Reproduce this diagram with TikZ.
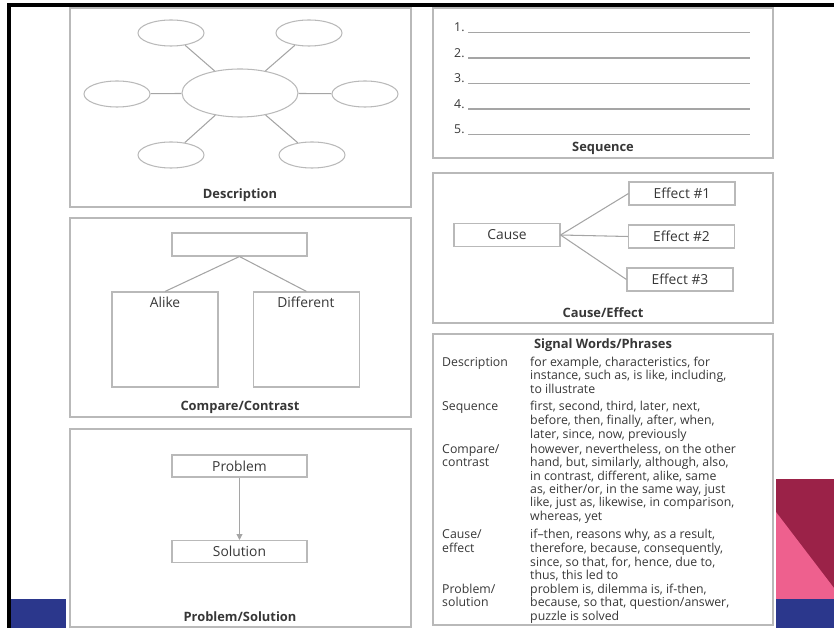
\documentclass[tikz,border=0pt]{standalone}
\usepackage{fontspec}
\setmainfont{Open Sans}
\usetikzlibrary{positioning,shapes.geometric,arrows.meta}

\definecolor{framegray}{RGB}{185,185,185}
\definecolor{linegray}{RGB}{165,165,165}
\definecolor{inkgray}{RGB}{55,55,55}
\definecolor{barblue}{RGB}{43,55,140}
\definecolor{barwine}{RGB}{155,34,72}
\definecolor{barpink}{RGB}{238,96,142}

\newdimen\pxu
\pxu=0.03cm

\begin{document}
\begin{tikzpicture}[x=0.03cm, y=-0.03cm,
    every node/.style={text=inkgray, font=\fontsize{10.5}{11.44}\selectfont},
    panel/.style={draw=framegray, line width=0.9pt},
    bubble/.style={ellipse, draw=framegray, line width=0.9pt, minimum width=66\pxu, minimum height=26\pxu, inner sep=0pt},
    boxtext/.style={font=\fontsize{11.8}{14}\selectfont},
    tag/.style={draw=framegray, line width=0.9pt, minimum width=106\pxu, minimum height=23\pxu, inner sep=0pt, boxtext},
    link/.style={draw=linegray, line width=0.9pt},
    heading/.style={font=\bfseries\fontsize{11}{13}\selectfont},
    words/.style={anchor=north west, align=left, inner sep=0pt}]
    \useasboundingbox (0,0) rectangle (834,628);

    % slide decoration
    \fill[barblue] (10,599) rectangle (66,628);
    \fill[barwine] (776,479) rectangle (834,599);
    \fill[barpink] (776,512) -- (834,588) -- (834,599) -- (776,599) -- cycle;
    \fill[barblue] (776,599) rectangle (834,628);
    \draw[line width=3pt, line join=miter] (8.8,628) -- (8.8,5) -- (834,5);

    % panels
    \draw[panel] (70,8) rectangle (411,207);
    \draw[panel] (433,8) rectangle (773,158);
    \draw[panel] (433,173) rectangle (773,323);
    \draw[panel] (70,218) rectangle (411,417);
    \draw[panel] (70,429) rectangle (411,627);
    \draw[panel] (433,334) rectangle (773,625);

    % Description
    \node[bubble, minimum width=116\pxu, minimum height=48\pxu] (hub) at (240,93) {};
    \node[bubble] (spokeNW) at (171,33) {};
    \node[bubble] (spokeNE) at (309,33) {};
    \node[bubble] (spokeW) at (117,94) {};
    \node[bubble] (spokeE) at (365,94) {};
    \node[bubble] (spokeSW) at (171,155) {};
    \node[bubble] (spokeSE) at (312,155) {};
    \foreach \s in {NW,NE,W,E,SW,SE}
        \draw[link] (hub) -- (spoke\s);
    \node[heading] (descTitle) at (240,195) {Description};

    % Sequence
    \foreach \i in {1,...,5} {
        \node[anchor=base west, inner sep=0pt] (num\i) at (454,{6.5+25.5*\i}) {\i.};
        \draw[link] (468,{7+25.5*\i}) -- (750,{7+25.5*\i});
    }
    \node[heading] (seqTitle) at (603,148) {Sequence};

    % Cause/Effect
    \node[tag] (cause) at (507,235) {Cause};
    \node[tag] (eff1) at (682,193.5) {Effect \#1};
    \node[tag] (eff2) at (681.5,236.5) {Effect \#2};
    \node[tag] (eff3) at (680,279.5) {Effect \#3};
    \foreach \e in {1,2,3}
        \draw[link] (cause.east) -- (eff\e.west);
    \node[heading] (ceTitle) at (603,313) {Cause/Effect};

    % Compare/Contrast
    \node[tag, minimum width=135\pxu] (topic) at (239.5,244.5) {};
    \node[tag, minimum height=95\pxu] (alike) at (165,339.5) {};
    \node[tag, minimum height=95\pxu] (differ) at (306.5,339.5) {};
    \node[boxtext] (alikeTxt) at (165,302) {Alike};
    \node[boxtext] (differTxt) at (306,302) {Different};
    \draw[link] (topic.south) -- (alike.north);
    \draw[link] (topic.south) -- (differ.north);
    \node[heading] (ccTitle) at (240,407) {Compare/Contrast};

    % Problem/Solution
    \node[tag, minimum width=135\pxu, minimum height=22\pxu] (problem) at (239.5,466) {Problem};
    \node[tag, minimum width=135\pxu, minimum height=22\pxu] (solution) at (239.5,551.5) {Solution};
    \draw[link, -{Triangle[length=5pt, width=5pt]}] (problem) -- (solution);
    \node[heading] (psTitle) at (240,617) {Problem/Solution};

    % Signal words
    \node[heading] (swTitle) at (603,345) {Signal Words/Phrases};
    \node[words] (kDesc) at (442,356.6) {\strut Description};
    \node[words] (vDesc) at (530,356.6) {\strut for example, characteristics, for\\instance, such as, is like, including,\\to illustrate};
    \node[words] (kSeq) at (442,400.6) {\strut Sequence};
    \node[words] (vSeq) at (530,400.6) {\strut first, second, third, later, next,\\before, then, finally, after, when,\\later, since, now, previously};
    \node[words] (kComp) at (442,443.6) {\strut Compare/\\contrast};
    \node[words] (vComp) at (530,443.6) {\strut however, nevertheless, on the other\\hand, but, similarly, although, also,\\in contrast, different, alike, same\\as, either/or, in the same way, just\\like, just as, likewise, in comparison,\\whereas, yet};
    \node[words] (kCause) at (442,528.6) {\strut Cause/\\effect};
    \node[words] (vCause) at (530,528.6) {\strut if--then, reasons why, as a result,\\therefore, because, consequently,\\since, so that, for, hence, due to,\\thus, this led to};
    \node[words] (kProb) at (442,583.6) {\strut Problem/\\solution};
    \node[words] (vProb) at (530,583.6) {\strut problem is, dilemma is, if-then,\\because, so that, question/answer,\\puzzle is solved};
\end{tikzpicture}
\end{document}
